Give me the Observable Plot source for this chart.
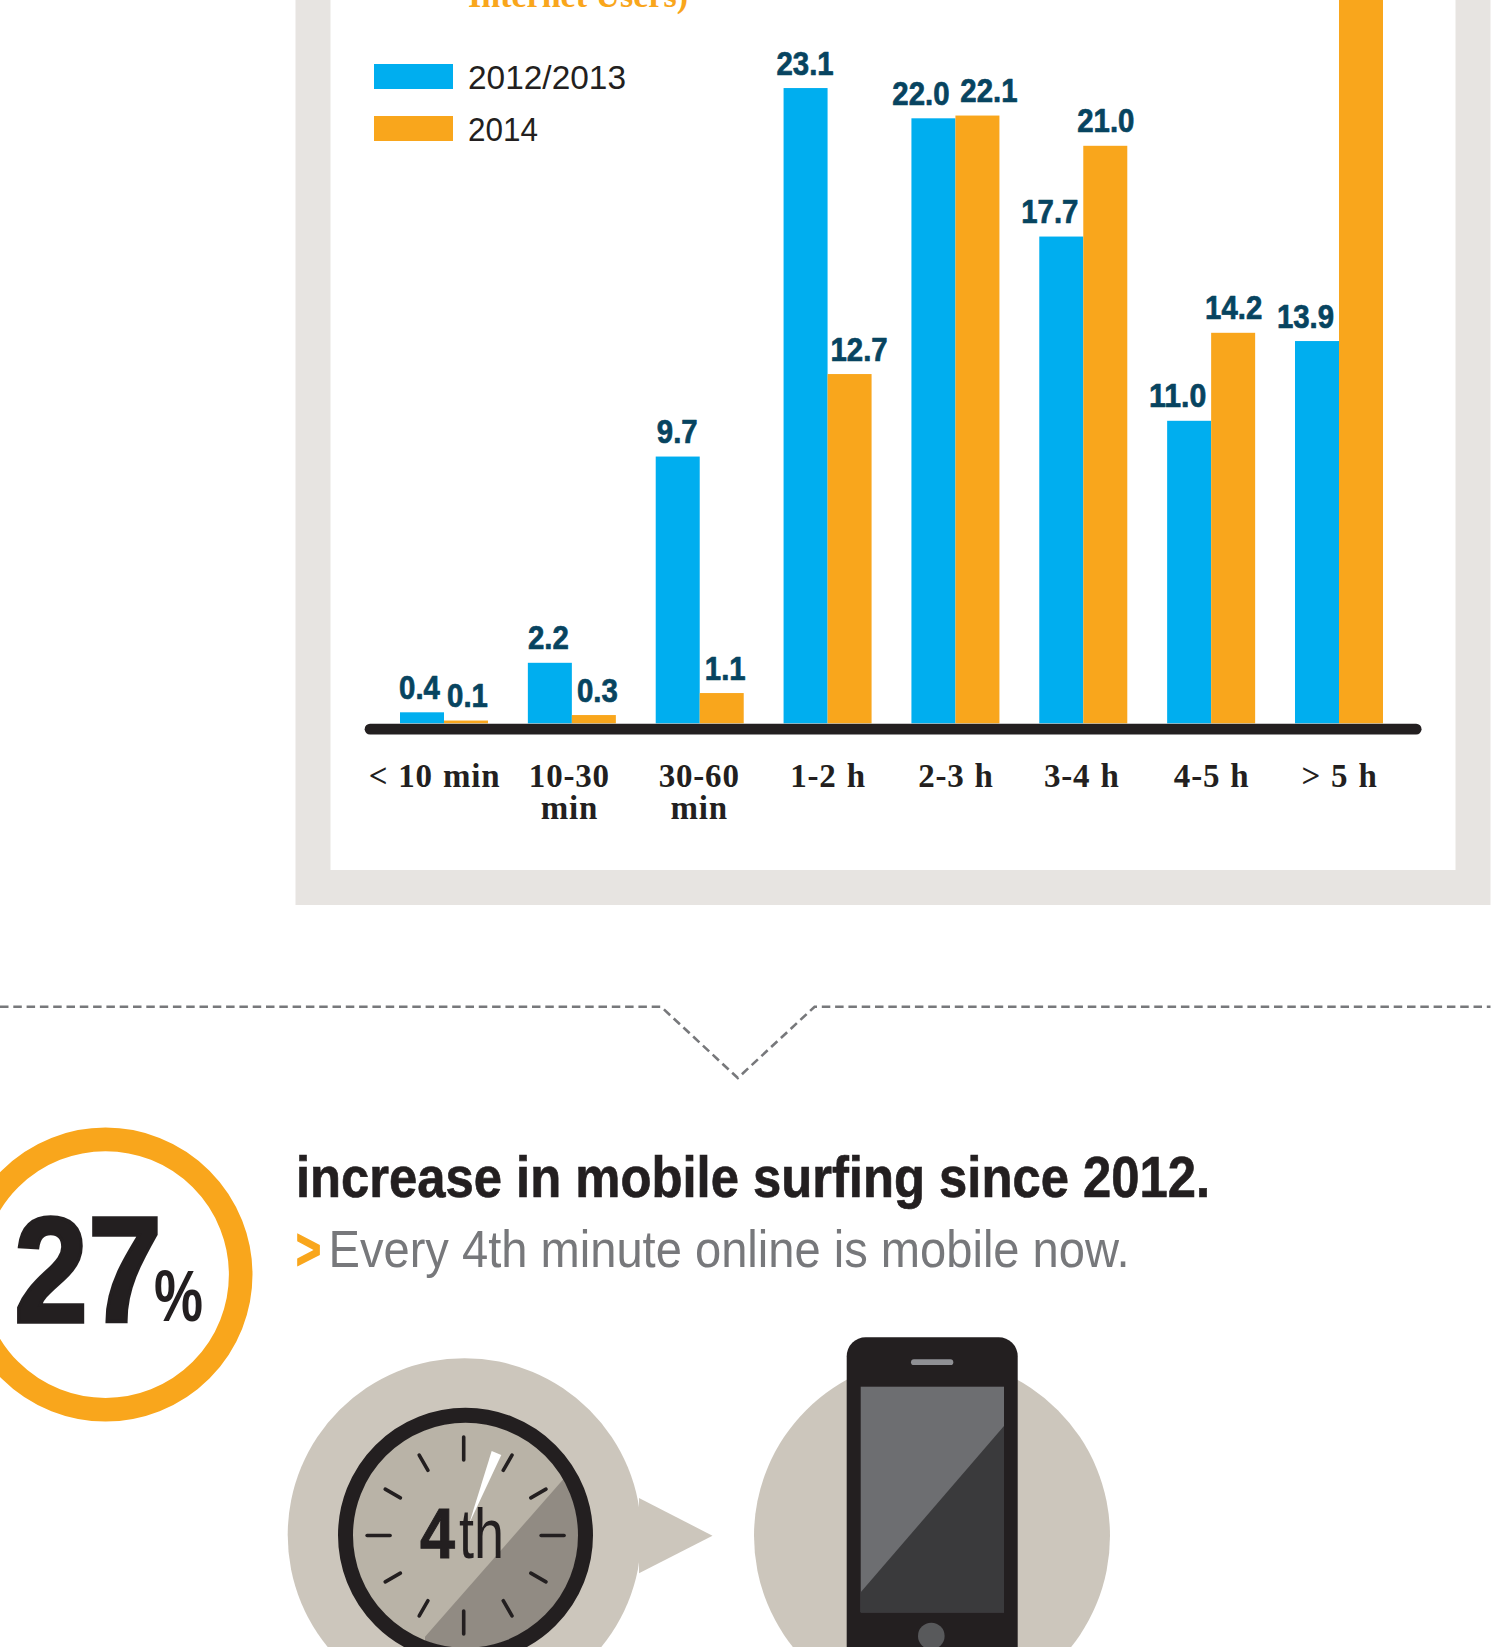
<!DOCTYPE html>
<html>
<head>
<meta charset="utf-8">
<script src="https://cdn.jsdelivr.net/npm/d3@7"></script>
<script src="https://cdn.jsdelivr.net/npm/@observablehq/plot@0.6"></script>
<style>
  html, body { margin: 0; padding: 0; background: #fff; overflow: hidden; }
  svg { display: block; }
  g[aria-label*="tick label"] text, [aria-label="category labels"] text { letter-spacing: 0.8px; word-spacing: 1px; }
</style>
</head>
<body>
<div id="chart"></div>
<script>
// Daily time online, share of internet users per duration band (each period sums to 100).
const categories = ["< 10 min", "10-30\nmin", "30-60\nmin", "1-2 h", "2-3 h", "3-4 h", "4-5 h", "> 5 h"];
const periods = ["2012/2013", "2014"];
const share2012 = [0.4, 2.2, 9.7, 23.1, 22.0, 17.7, 11.0, 13.9];
const share2014 = [0.1, 0.3, 1.1, 12.7, 22.1, 21.0, 14.2, 28.5];

// Horizontal nudges that keep neighbouring value labels apart.
const nudge2012 = [-3, -2, -1, -1, -13, -12, -12, -12];
const nudge2014 = [1, 3, 3, 9, 11, 0, 0, 0];
const categoryNudge = [-10, -3, -1, 0, 0, -2, 0, 0];

const ink = "#231f20";
const blue = "#00aeef";
const orange = "#f9a61c";
const labelBlue = "#074460";
const stone = "#ccc6bc";
const panelGrey = "#e7e4e1";
const serif = "'Liberation Serif', serif";
const sans = "'Liberation Sans', sans-serif";

const rows = categories.flatMap((category, i) => [
  {category, period: periods[0], share: share2012[i], dx: -22 + nudge2012[i]},
  {category, period: periods[1], share: share2014[i], dx: 22 + nudge2014[i]}
]);

// Clock face ticks, one every 30 degrees; the quarter marks run a little longer.
const clockTicks = d3.range(12).map((k) => {
  const a = (k * Math.PI) / 6;
  const inner = k % 3 === 0 ? 75.5 : 75.3;
  const outer = k % 3 === 0 ? 98.5 : 92.8;
  const cx = k % 6 === 0 ? 463.7 : 465.6, cy = 1535.5;
  return `<line x1="${cx + inner * Math.sin(a)}" y1="${cy - inner * Math.cos(a)}" x2="${cx + outer * Math.sin(a)}" y2="${cy - outer * Math.cos(a)}"/>`;
}).join("");

// Panel, legend, divider, call-out and the two pictograms behind the bars.
const artwork = () => d3.create("svg:g").attr("text-anchor", "start").html(`
  <rect x="295.5" y="-40" width="1195" height="945" fill="${panelGrey}"/>
  <rect x="330.5" y="-40" width="1125" height="910" fill="#fff"/>
  <text x="468" y="7" font-family="${serif}" font-weight="bold" font-size="33" fill="${orange}" textLength="220" lengthAdjust="spacingAndGlyphs">Internet Users)</text>

  <rect x="374" y="64" width="79" height="25" fill="${blue}"/>
  <rect x="374" y="116" width="79" height="25" fill="${orange}"/>
  <text x="468" y="89" font-family="${sans}" font-size="33" fill="${ink}" textLength="158" lengthAdjust="spacingAndGlyphs">${periods[0]}</text>
  <text x="468" y="141" font-family="${sans}" font-size="33" fill="${ink}" textLength="70" lengthAdjust="spacingAndGlyphs">${periods[1]}</text>

  <path d="M0 1006.7H661L737.8 1078L814.6 1006.7H1490.5" fill="none" stroke="#77787b" stroke-width="2.6" stroke-dasharray="8.5 4.8"/>

  <circle cx="105.5" cy="1274.6" r="135.2" fill="none" stroke="${orange}" stroke-width="23.6"/>
  <text x="14" y="1321.7" font-family="${sans}" font-weight="bold" font-size="150" fill="${ink}" stroke="${ink}" stroke-width="3.5" textLength="148" lengthAdjust="spacingAndGlyphs">27</text>
  <text x="154" y="1321" font-family="${sans}" font-weight="bold" font-size="72" fill="${ink}" textLength="49" lengthAdjust="spacingAndGlyphs">%</text>

  <text x="296" y="1196.7" font-family="${sans}" font-weight="bold" font-size="57" fill="${ink}" stroke="${ink}" stroke-width="0.7" textLength="914" lengthAdjust="spacingAndGlyphs">increase in mobile surfing since 2012.</text>
  <text x="296" y="1269" font-family="${sans}" font-weight="bold" font-size="58" fill="${orange}" stroke="${orange}" stroke-width="1.5" textLength="25" lengthAdjust="spacingAndGlyphs">&gt;</text>
  <text x="328.5" y="1266.7" font-family="${sans}" font-size="52.5" fill="#77787b" textLength="801" lengthAdjust="spacingAndGlyphs">Every 4th minute online is mobile now.</text>

  <circle cx="464.5" cy="1535" r="176.8" fill="${stone}"/>
  <polygon points="639,1498 712.5,1535.7 639,1573.3" fill="${stone}"/>
  <clipPath id="face"><circle cx="465.5" cy="1535.3" r="113"/></clipPath>
  <circle cx="465.5" cy="1535.3" r="113" fill="#b9b3a7"/>
  <polygon points="563.3,1479.3 425,1636.7 425,1700 640,1700 640,1479.3" fill="#918b83" clip-path="url(#face)"/>
  <circle cx="465.5" cy="1535.3" r="120" fill="none" stroke="${ink}" stroke-width="15"/>
  <g stroke="${ink}" stroke-width="3.6" stroke-linecap="round">${clockTicks}</g>
  <polygon points="491.7,1451 501.3,1455 469.3,1523.3" fill="#fff"/>
  <text x="420" y="1558.3" font-family="${sans}" font-weight="bold" font-size="70" fill="${ink}" stroke="${ink}" stroke-width="1" textLength="35" lengthAdjust="spacingAndGlyphs">4</text>
  <text x="459" y="1558.3" font-family="${sans}" font-size="70" fill="${ink}" textLength="45" lengthAdjust="spacingAndGlyphs">th</text>

  <circle cx="932" cy="1536" r="178" fill="${stone}"/>
  <rect x="846.7" y="1337.3" width="171" height="340" rx="19" fill="${ink}"/>
  <rect x="860.7" y="1386.7" width="143.3" height="225.6" fill="#6d6e71"/>
  <polygon points="1004,1426 860.7,1592.3 860.7,1612.3 1004,1612.3" fill="#3a3a3c"/>
  <rect x="911" y="1359.3" width="42.3" height="5.8" rx="2.9" fill="#8f9094"/>
  <circle cx="931.3" cy="1636" r="13.3" fill="#58595b"/>
`).node();

// Condense each value label to the narrow proportions of the chart's figures.
const valueFont = 33;
const condense = (index, scales, values, dimensions, context, next) => {
  const g = next(index, scales, values, dimensions, context);
  d3.select(g).selectAll("text")
    .attr("textLength", function () {
      const s = this.textContent;
      return (s.length - 1) * 0.556 * valueFont * 0.89 + 0.278 * valueFont * 0.89;
    })
    .attr("lengthAdjust", "spacingAndGlyphs");
  return g;
};

const axisOptions = {
  ariaLabel: "category labels", tickSize: 0, tickPadding: 40, label: null,
  lineAnchor: "top", lineHeight: 0.98, fontFamily: serif, fontWeight: "bold", fontSize: 33, fill: ink
};

const chart = Plot.plot({
  width: 1492,
  height: 1647,
  marginTop: 0,
  marginRight: 75.8,
  marginBottom: 923.7,
  marginLeft: 370,
  style: {background: "#fff", overflow: "hidden"},
  x: {domain: categories, range: [400, 1383], paddingInner: 0.3117, paddingOuter: 0, align: 0.5, round: false},
  y: {axis: null, domain: [0, 28.5], range: [723.3, 723.3 - 28.5 * 27.5]},
  color: {domain: periods, range: [blue, orange]},
  marks: [
    artwork,
    Plot.barY(rows.filter((d) => d.period === periods[0]), {x: "category", y: "share", fill: "period", insetRight: 44}),
    Plot.barY(rows.filter((d) => d.period === periods[1]), {x: "category", y: "share", fill: "period", insetLeft: 44}),
    Plot.ruleY([0], {stroke: ink, strokeWidth: 10.7, strokeLinecap: "round", dy: 5.35}),
    // The tallest bar runs off the top of the page, so its label is not drawn.
    ...Array.from(d3.group(rows.filter((d) => d.share < 26), (d) => d.dx), ([dx, group]) =>
      Plot.text(group, {
        ariaLabel: "bar values",
        x: "category",
        y: "share",
        text: (d) => d3.format(".1f")(d.share),
        dx,
        dy: -14,
        lineAnchor: "bottom",
        fill: labelBlue,
        stroke: labelBlue,
        strokeWidth: 0.7,
        fontFamily: sans,
        fontWeight: "bold",
        fontSize: valueFont,
        render: condense
      })
    ),
    ...Array.from(d3.group(categories, (c) => categoryNudge[categories.indexOf(c)]), ([dx, group]) =>
      Plot.axisX(group, {...axisOptions, dx})
    )
  ]
});

document.getElementById("chart").append(chart);
</script>
</body>
</html>
